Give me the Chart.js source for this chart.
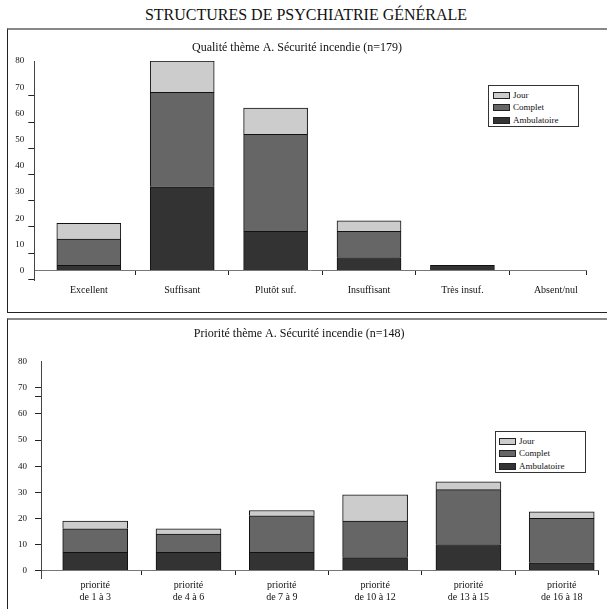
<!DOCTYPE html>
<html>
<head>
<meta charset="utf-8">
<script src="https://cdn.jsdelivr.net/npm/chart.js@4.4.1/dist/chart.umd.min.js"></script>
<style>
  body { margin: 0; background: #fff; width: 607px; height: 609px; overflow: hidden; position: relative; font-family: 'Liberation Serif', serif; }
  .titre { position: absolute; left: 5px; top: 6px; width: 602px; text-align: center; font-size: 16px; line-height: 18px; color: #111; }
  .panneau { position: absolute; left: 7px; width: 620px; box-sizing: border-box; border-left: 1px solid #222; border-top: 2px solid #888; }
  #p1 { top: 28px; height: 285px; border-bottom: 1px solid #222; }
  #p2 { top: 318px; height: 300px; }
  canvas { position: absolute; left: 0; }
  .legende { position: absolute; box-sizing: border-box; width: 91px; height: 42px; border: 1px solid #333; background: #fff; padding: 3px 0 0 4px; font-size: 9px; color: #111; }
  .legende div { height: 12.3px; line-height: 12.3px; white-space: nowrap; }
  .legende span { display: inline-block; width: 17px; height: 7px; box-sizing: border-box; border: 1px solid #222; margin-right: 3px; vertical-align: -1px; }
</style>
</head>
<body>
<div class="titre">STRUCTURES DE PSYCHIATRIE GÉNÉRALE</div>
<div class="panneau" id="p1"></div>
<div class="panneau" id="p2"></div>
<canvas id="qualite" width="607" height="282" style="top:30px"></canvas>
<canvas id="priorite" width="607" height="290" style="top:319px"></canvas>
<div class="legende" id="leg1" style="left:488px; top:85px"></div>
<div class="legende" id="leg2" style="left:495px; top:431px; padding-left:3px"></div>
<script>
  // Qualité thème A
  const categories1 = ['Excellent', 'Suffisant', 'Plutôt suf.', 'Insuffisant', 'Très insuf.', 'Absent/nul'];
  const ambulatoire1 = [2, 32, 15, 5, 2, 0];
  const complet1 = [10, 36, 37, 10, 0, 0];
  const jour1 = [6, 12, 10, 4, 0, 0];
  const yLabels1 = [0, 10, 20, 30, 40, 50, 60, 70, 80];
  const yMarks1 = [-3.33, 6.67, 16.67, 26.67, 36.67, 46.67, 56.67, 66.67];

  // Priorité thème A
  const categories2 = [['priorité', 'de 1 à 3'], ['priorité', 'de 4 à 6'], ['priorité', 'de 7 à 9'],
    ['priorité', 'de 10 à 12'], ['priorité', 'de 13 à 15'], ['priorité', 'de 16 à 18']];
  const ambulatoire2 = [7, 7, 7, 5, 10, 3];
  const complet2 = [9, 7, 14, 14, 21, 17];
  const jour2 = [3, 2, 2, 10, 3, 2.5];
  const yLabels2 = [0, 10, 20, 30, 40, 50, 60, 70, 80];
  const yMarks2 = [0, 10, 20, 30, 40, 50, 60, 66.67, 70];

  const serie = ['Ambulatoire', 'Complet', 'Jour'];
  const couleurs = ['#333333', '#666666', '#cccccc'];
  const police = 'Liberation Serif';
  const transparent = 'rgba(0,0,0,0)';

  function points(values) {
    return values.map((v, i) => ({ x: i, y: v }));
  }

  function graphique(id, o) {
    const valeurs = [o.amb, o.comp, o.jour];
    return new Chart(document.getElementById(id), {
      type: 'bar',
      data: {
        datasets: valeurs.map((vals, k) => ({
          label: serie[k],
          data: points(vals),
          backgroundColor: couleurs[k],
          borderColor: '#111',
          borderWidth: 1,
          barThickness: o.epaisseur
        }))
      },
      options: {
        responsive: false,
        animation: false,
        devicePixelRatio: 1,
        layout: { padding: o.padding },
        plugins: {
          legend: { display: false },
          tooltip: { enabled: false },
          title: {
            display: true,
            text: o.titre,
            color: '#111',
            font: { family: police, size: 12, weight: 'normal' },
            padding: { top: 0, bottom: o.titreBas }
          }
        },
        scales: {
          x: {
            type: 'linear',
            stacked: true,
            offset: false,
            position: { y: 0 },
            min: o.xMin,
            max: o.xMax,
            afterBuildTicks: (scale) => {
              const t = [];
              for (let i = 0; i < o.cats.length; i++) {
                t.push({ value: i });
                if (i < o.cats.length - 1) t.push({ value: i + 0.5 });
              }
              t.push({ value: o.xMax });
              scale.ticks = t;
            },
            grid: {
              offset: false,
              drawOnChartArea: false,
              tickLength: 4,
              color: (ctx) => (ctx.tick && Number.isInteger(ctx.tick.value)) ? transparent : '#222'
            },
            border: { color: '#777', width: 1 },
            ticks: {
              autoSkip: false,
              maxRotation: 0,
              padding: o.xPad,
              color: '#111',
              font: { family: police, size: 10 },
              callback: (v) => Number.isInteger(v) ? o.cats[v] : ''
            }
          },
          y: {
            stacked: true,
            min: o.yMin,
            max: 80,
            afterBuildTicks: (scale) => {
              const vals = [...new Set([...o.yLabels, ...o.yMarks])].sort((a, b) => a - b);
              scale.ticks = vals.map(v => ({ value: v }));
            },
            afterFit: (scale) => { scale.width = o.largeurY; },
            grid: {
              drawOnChartArea: false,
              tickLength: 6,
              color: (ctx) => (ctx.tick && o.yMarks.includes(ctx.tick.value)) ? '#222' : transparent
            },
            border: { color: '#444', width: 1 },
            ticks: {
              autoSkip: false,
              padding: o.yPad,
              color: '#111',
              font: { family: police, size: 9 },
              callback: (v) => o.yLabels.includes(v) ? String(v) : ''
            }
          }
        }
      }
    });
  }

  function legende(el, chart) {
    const ds = chart.data.datasets.slice().reverse();
    el.innerHTML = ds.map(d =>
      '<div><span style="background:' + d.backgroundColor + '"></span>' + d.label + '</div>').join('');
  }

  const c1 = graphique('qualite', {
    titre: 'Qualité thème A. Sécurité incendie (n=179)',
    cats: categories1, amb: ambulatoire1, comp: complet1, jour: jour1,
    yLabels: yLabels1, yMarks: yMarks1,
    padding: { top: 11, left: 8, right: 21, bottom: 32 },
    titreBas: 5.6, largeurY: 26.3,
    xMin: -0.5835, xMax: 5.323, yMin: -3.6,
    epaisseur: 64, xPad: 10, yPad: 4
  });

  const c2 = graphique('priorite', {
    titre: 'Priorité thème A. Sécurité incendie (n=148)',
    cats: categories2, amb: ambulatoire2, comp: complet2, jour: jour2,
    yLabels: yLabels2, yMarks: yMarks2,
    padding: { top: 8.1, left: 0, right: 8.7, bottom: 30.3 },
    titreBas: 20.2, largeurY: 41,
    xMin: -0.581, xMax: 5.392, yMin: -3.1,
    epaisseur: 65, xPad: 5, yPad: 8
  });

  legende(document.getElementById('leg1'), c1);
  legende(document.getElementById('leg2'), c2);
</script>
</body>
</html>
